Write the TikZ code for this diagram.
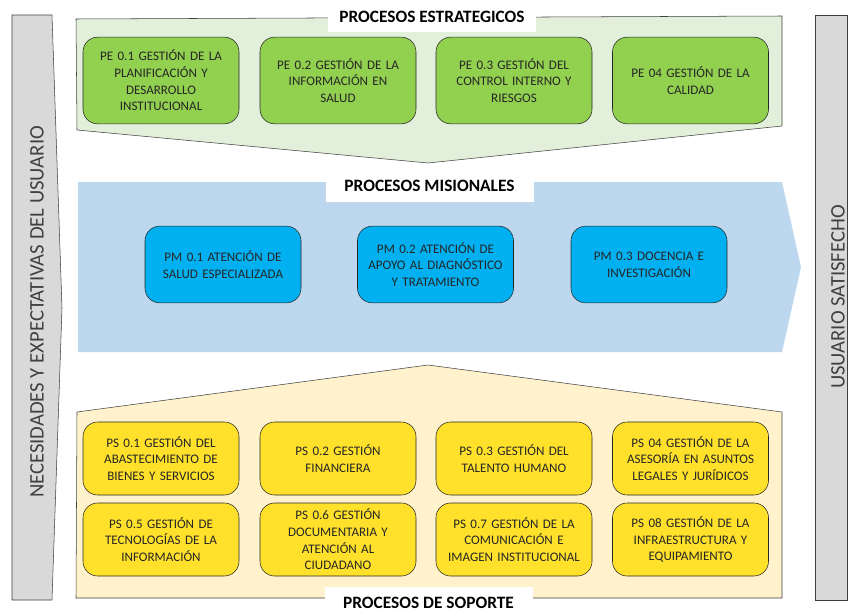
\documentclass[tikz,border=0pt]{standalone}
\usepackage{fontspec}
\setmainfont{Carlito}
\usepackage{xcolor}
\definecolor{fondove}{HTML}{E2EFDA}
\definecolor{fondoaz}{HTML}{BDD7EE}
\definecolor{fondoam}{HTML}{FFF2CC}
\definecolor{cajave}{HTML}{92D050}
\definecolor{cajaaz}{HTML}{00B0F0}
\definecolor{cajaam}{HTML}{FFE12B}
\definecolor{barra}{HTML}{D9D9D9}
\definecolor{borde}{HTML}{404040}
\hyphenpenalty=10000
\begin{document}
\begin{tikzpicture}[x=0.75pt, y=-0.75pt,
  caja/.style={draw=black!85, rounded corners=11pt, align=center, inner sep=0pt,
    text width=116pt, minimum width=117pt, text=black!85,
    font=\fontsize{9.8}{12.5}\selectfont},
  pe/.style={caja, fill=cajave, minimum height=65pt},
  pm/.style={caja, fill=cajaaz, minimum height=57.5pt},
  ps/.style={caja, fill=cajaam, minimum height=54.75pt},
  titulo/.style={fill=white, minimum width=156pt, minimum height=24pt, inner sep=0pt,
    font=\fontsize{13}{15}\bfseries},
  lado/.style={rotate=90, text=borde, font=\fontsize{15.5}{18}\selectfont}]
\useasboundingbox (0,0) rectangle (848,613);
% barras laterales
\draw[fill=barra, draw=borde] (12,15) -- (52,15) -- (62,308) -- (52,600) -- (12,600) -- cycle;
\draw[fill=barra, draw=borde] (815,15) rectangle (847,600);
\node[lado] (entrada) at (37,312) {NECESIDADES Y EXPECTATIVAS DEL USUARIO};
\node[lado] (salida) at (838,297) {USUARIO SATISFECHO};
% franjas
\draw[fill=fondove, draw=borde] (76,19) -- (782,16) -- (782,126) -- (428,163) -- (77,130) -- cycle;
\fill[fondoaz] (78,182) -- (782,182) -- (801,267) -- (782,352) -- (78,352) -- cycle;
\draw[fill=fondoam, draw=borde] (77,412) -- (428,365) -- (782,412) -- (782,598) -- (76,598) -- cycle;
% titulos
\node[titulo] (estrategicos) at (432,16.5) {PROCESOS ESTRATEGICOS};
\node[titulo] (misionales) at (429.5,186) {PROCESOS MISIONALES};
\node[titulo] (soporte) at (428.5,603) {PROCESOS DE SOPORTE};
% procesos estrategicos
\node[pe] (pe1) at (161,80.5) {PE 0.1 GESTIÓN DE LA\\ PLANIFICACIÓN Y\\ DESARROLLO\\ INSTITUCIONAL};
\node[pe] (pe2) at (338,80.5) {PE 0.2 GESTIÓN DE LA\\ INFORMACIÓN EN\\ SALUD};
\node[pe] (pe3) at (514,80.5) {PE 0.3 GESTIÓN DEL\\ CONTROL INTERNO Y\\ RIESGOS};
\node[pe] (pe4) at (690.5,80.5) {PE 04 GESTIÓN DE LA\\ CALIDAD};
% procesos misionales
\node[pm] (pm1) at (223,264.5) {PM 0.1 ATENCIÓN DE\\ SALUD ESPECIALIZADA};
\node[pm] (pm2) at (435.5,264.5) {PM 0.2 ATENCIÓN DE\\ APOYO AL DIAGNÓSTICO\\ Y TRATAMIENTO};
\node[pm] (pm3) at (649,264.5) {PM 0.3 DOCENCIA E\\ INVESTIGACIÓN};
% procesos de soporte
\node[ps] (ps1) at (161,458.5) {PS 0.1 GESTIÓN DEL\\ ABASTECIMIENTO DE\\ BIENES Y SERVICIOS};
\node[ps] (ps2) at (338,458.5) {PS 0.2 GESTIÓN\\ FINANCIERA};
\node[ps] (ps3) at (514,458.5) {PS 0.3 GESTIÓN DEL\\ TALENTO HUMANO};
\node[ps] (ps4) at (690.5,458.5) {PS 04 GESTIÓN DE LA\\ ASESORÍA EN ASUNTOS\\ LEGALES Y JURÍDICOS};
\node[ps] (ps5) at (161,539.5) {PS 0.5 GESTIÓN DE\\ TECNOLOGÍAS DE LA\\ INFORMACIÓN};
\node[ps] (ps6) at (338,539.5) {PS 0.6 GESTIÓN\\ DOCUMENTARIA Y\\ ATENCIÓN AL\\ CIUDADANO};
\node[ps] (ps7) at (514,539.5) {PS 0.7 GESTIÓN DE LA\\ COMUNICACIÓN E\\ IMAGEN INSTITUCIONAL};
\node[ps] (ps8) at (690.5,539.5) {PS 08 GESTIÓN DE LA\\ INFRAESTRUCTURA Y\\ EQUIPAMIENTO};
\end{tikzpicture}
\end{document}
